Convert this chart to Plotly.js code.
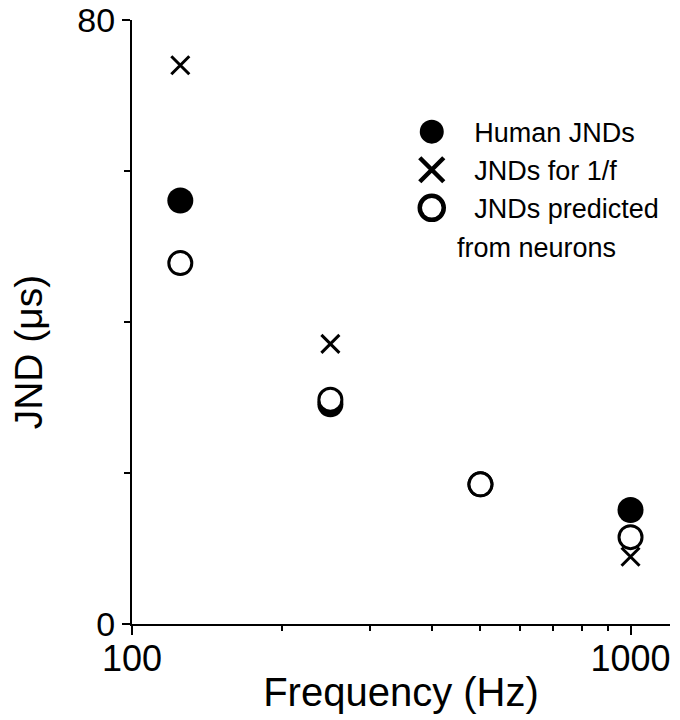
<!DOCTYPE html>
<html>
<head>
<meta charset="utf-8">
<script src="https://cdn.plot.ly/plotly-3.0.1.min.js"></script>
<style>html,body{margin:0;padding:0;background:#fff;}#chart{width:680px;height:720px;}</style>
</head>
<body>
<div id="chart"></div>
<script>
// Data
const frequencies = [125, 250, 500, 1000];
const humanJND = [56.1, 29.1, 18.5, 15.1];
const jndOneOverF = [74.0, 37.1, 18.5, 8.9];
const jndPredicted = [47.8, 29.7, 18.5, 11.5];

const seriesNames = ["\u00A0\u00A0\u00A0Human JNDs", "\u00A0\u00A0\u00A0JNDs for 1/f", "\u00A0\u00A0\u00A0JNDs predicted"];
const xTickVals = [100, 1000];
const xTickText = ["100", "1000"];
const xMinorVals = [200, 300, 400, 500, 600, 700, 800, 900];
const yTickVals = [0, 80];
const yTickText = ["0", "80"];
const yMinorVals = [20, 40, 60];

const FONT = "Liberation Sans, Arial, Helvetica, sans-serif";

const traces = [
  {
    x: frequencies, y: humanJND, name: seriesNames[0], mode: "markers", type: "scatter",
    marker: {symbol: "circle", size: 26, color: "black", line: {width: 0}}
  },
  {
    x: frequencies, y: jndOneOverF, name: seriesNames[1], mode: "markers", type: "scatter",
    marker: {symbol: "x-thin-open", size: 18, color: "black", line: {width: 3, color: "black"}}
  },
  {
    x: frequencies, y: jndPredicted, name: seriesNames[2], mode: "markers", type: "scatter",
    marker: {symbol: "circle", size: 23, color: "white", line: {width: 3, color: "black"}}
  }
];

const layout = {
  width: 680, height: 720,
  margin: {l: 132, r: 10, t: 20, b: 96},
  paper_bgcolor: "white", plot_bgcolor: "white",
  font: {family: FONT, color: "black", size: 34},
  showlegend: true,
  legend: {
    x: 0.52, y: 0.855, xanchor: "left", yanchor: "top",
    font: {family: FONT, size: 27, color: "black"},
    bgcolor: "rgba(0,0,0,0)", itemwidth: 30, tracegroupgap: 0
  },
  xaxis: {
    type: "log", range: [2, Math.log10(1200)],
    showline: true, linecolor: "black", linewidth: 2,
    showgrid: false, zeroline: false,
    ticks: "outside", ticklen: 9, tickwidth: 2, tickcolor: "black",
    ticklabelstandoff: -7,
    tickmode: "array", tickvals: xTickVals, ticktext: xTickText,
    tickfont: {family: FONT, size: 36, color: "black"},
    minor: {tickmode: "array", tickvals: xMinorVals, ticks: "outside", ticklen: 5, tickwidth: 2, tickcolor: "black", showgrid: false},
    title: {text: "Frequency (Hz)", font: {family: FONT, size: 40, color: "black"}, standoff: 0}
  },
  yaxis: {
    range: [0, 80],
    showline: true, linecolor: "black", linewidth: 2,
    showgrid: false, zeroline: false,
    ticks: "outside", ticklen: 8, tickwidth: 2, tickcolor: "black",
    tickmode: "array", tickvals: yTickVals, ticktext: yTickText,
    tickfont: {family: FONT, size: 34, color: "black"},
    minor: {tickmode: "array", tickvals: yMinorVals, ticks: "outside", ticklen: 6, tickwidth: 2, tickcolor: "black", showgrid: false}
  },
  annotations: [
    {text: "JND (\u03BCs)", textangle: -90, xref: "paper", yref: "paper", x: -0.193, y: 0.45,
     showarrow: false, xanchor: "center", yanchor: "middle", font: {family: FONT, size: 39, color: "black"}},
    {text: "from neurons", xref: "paper", yref: "paper", x: 0.751, y: 0.6225,
     showarrow: false, xanchor: "center", yanchor: "middle", font: {family: FONT, size: 27, color: "black"}}
  ]
};

Plotly.newPlot("chart", traces, layout, {displayModeBar: false, staticPlot: true}).then(function (gd) {
  // Plotly caps legend symbol size; enlarge the legend keys to match the plotted markers
  gd.querySelectorAll(".legend .legendpoints path.scatterpts").forEach(function (p) {
    const t = p.getAttribute("transform") || "";
    p.setAttribute("transform", t + " scale(1.5)");
  });
});
</script>
</body>
</html>
